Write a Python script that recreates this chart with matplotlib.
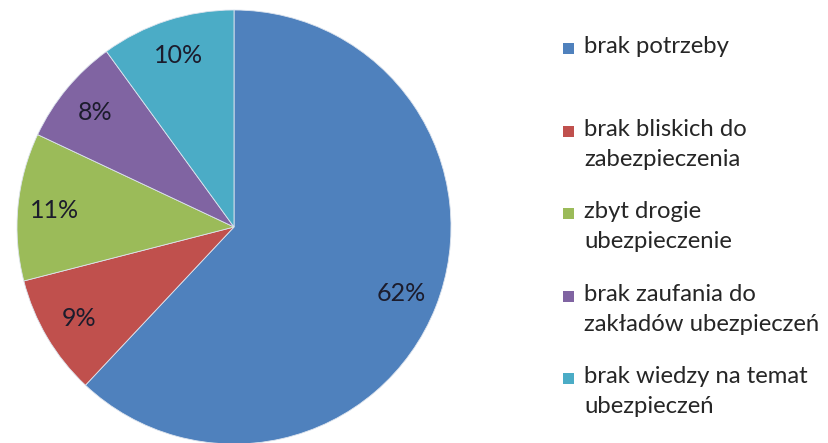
import matplotlib
matplotlib.use("Agg")
import matplotlib.pyplot as plt
from matplotlib.patches import Rectangle

categories = ["brak potrzeby",
              "brak bliskich do\nzabezpieczenia",
              "zbyt drogie\nubezpieczenie",
              "brak zaufania do\nzakładów ubezpieczeń",
              "brak wiedzy na temat\nubezpieczeń"]
values = [62, 9, 11, 8, 10]
colors = ["#4F81BD", "#C0504D", "#9BBB59", "#8064A2", "#4BACC6"]

plt.rcParams['font.family'] = ['Lato', 'DejaVu Sans']

W, H = 829, 443
fig = plt.figure(figsize=(W/100, H/100), dpi=100)
cx, cy, r = 234, 227, 217
ax = fig.add_axes([(cx - r)/W, (H - cy - r)/H, 2*r/W, 2*r/H])
wedges, texts, autotexts = ax.pie(values, colors=colors, startangle=90, counterclock=False,
                                  autopct=lambda p: f"{p:.0f}%", pctdistance=0.83,
                                  wedgeprops=dict(edgecolor="#dde4ee", linewidth=0.6),
                                  textprops=dict(fontsize=18, color="#1c1c2c"))
ax.set_xlim(-1, 1)
ax.set_ylim(-1, 1)
ax.set_aspect('equal')
ax.axis('off')

# legend
rows_y = [48, 131, 213, 296, 378]
for lab, col, y in zip(categories, colors, rows_y):
    fig.patches.append(Rectangle((563/W, (H - y - 5.5)/H), 11/W, 11/H,
                                 transform=fig.transFigure, facecolor=col, edgecolor='none'))
    fig.text(584/W, (H - y + 12)/H, lab, fontsize=17.2, color="#262626", va='top',
             ha='left', linespacing=1.55)

fig.savefig("out.png", dpi=100)
